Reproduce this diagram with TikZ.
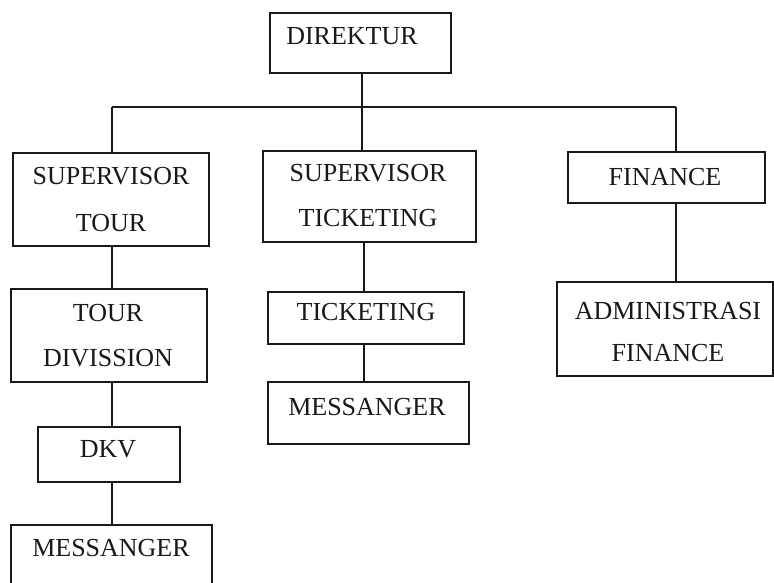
\documentclass[tikz,border=0pt]{standalone}
\usepackage{fontspec}
\setmainfont{Liberation Serif}
\begin{document}
\begin{tikzpicture}[x=1pt,y=-1pt,
  box/.style={draw=black!90,line width=1.4pt,rectangle,anchor=north west,inner sep=0pt,outer sep=0pt},
  lbl/.style={anchor=base,inner sep=0pt,font=\fontsize{26}{26}\selectfont,text=black!90},
  conn/.style={draw=black!90,line width=1.4pt}]
\useasboundingbox (0,0) rectangle (774,582);
% boxes
\node[box,minimum width=181pt,minimum height=60pt] (dir) at (270,13) {};
\node[box,minimum width=196pt,minimum height=93pt] (suptour) at (13,153) {};
\node[box,minimum width=196pt,minimum height=93pt] (tourdiv) at (11,289) {};
\node[box,minimum width=142pt,minimum height=55pt] (dkv) at (38,427) {};
\node[box,minimum width=201pt,minimum height=70pt] (messl) at (11,525) {};
\node[box,minimum width=213pt,minimum height=91pt] (suptick) at (263,151) {};
\node[box,minimum width=196pt,minimum height=52pt] (tick) at (268,292) {};
\node[box,minimum width=201pt,minimum height=62pt] (messm) at (268,382) {};
\node[box,minimum width=197pt,minimum height=51pt] (fin) at (568,152) {};
\node[box,minimum width=216pt,minimum height=94pt] (admin) at (557,282) {};
% labels
\node[lbl] (tdir) at (352,44) {DIREKTUR};
\node[lbl] (tst1) at (111,184) {SUPERVISOR};
\node[lbl] (tst2) at (111,231) {TOUR};
\node[lbl] (ttd1) at (108,321) {TOUR};
\node[lbl] (ttd2) at (108,366) {DIVISSION};
\node[lbl] (tdkv) at (108,457) {DKV};
\node[lbl] (tml) at (111,556) {MESSANGER};
\node[lbl] (tsk1) at (368,181) {SUPERVISOR};
\node[lbl] (tsk2) at (368,226) {TICKETING};
\node[lbl] (ttk) at (366,320) {TICKETING};
\node[lbl] (tmm) at (367,415) {MESSANGER};
\node[lbl] (tfin) at (665,185) {FINANCE};
\node[lbl] (tad1) at (668,319) {ADMINISTRASI};
\node[lbl] (tad2) at (668,361) {FINANCE};
% connectors
\coordinate (busl) at (112,107);
\coordinate (busm) at (362,107);
\coordinate (busr) at (676,107);
\coordinate (tickx) at (364,0);
\draw[conn] (busm |- dir.south) -- (busm);
\draw[conn] (busl) -- (busr);
\draw[conn] (busl) -- (busl |- suptour.north);
\draw[conn] (busm) -- (busm |- suptick.north);
\draw[conn] (busr) -- (busr |- fin.north);
\draw[conn] (busl |- suptour.south) -- (busl |- tourdiv.north);
\draw[conn] (busl |- tourdiv.south) -- (busl |- dkv.north);
\draw[conn] (busl |- dkv.south) -- (busl |- messl.north);
\draw[conn] (tickx |- suptick.south) -- (tickx |- tick.north);
\draw[conn] (tickx |- tick.south) -- (tickx |- messm.north);
\draw[conn] (busr |- fin.south) -- (busr |- admin.north);
\end{tikzpicture}
\end{document}
